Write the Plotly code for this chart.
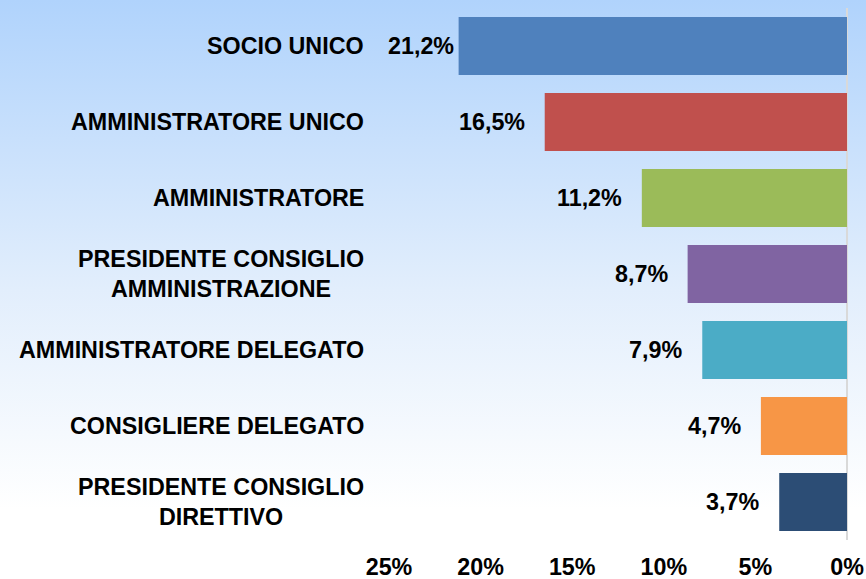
import base64
import plotly.graph_objects as go

categories = [
    "SOCIO UNICO",
    "AMMINISTRATORE UNICO",
    "AMMINISTRATORE",
    "PRESIDENTE CONSIGLIO<br>AMMINISTRAZIONE",
    "AMMINISTRATORE DELEGATO",
    "CONSIGLIERE DELEGATO",
    "PRESIDENTE CONSIGLIO<br>DIRETTIVO",
]
values = [21.2, 16.5, 11.2, 8.7, 7.9, 4.7, 3.7]
colors = ["#4f81bd", "#c0504d", "#9bbb59", "#8064a2", "#4bacc6", "#f79646", "#2c4d75"]
tick_vals = [0, 5, 10, 15, 20, 25]
tick_text = ["0%", "5%", "10%", "15%", "20%", "25%"]

FONT = "Liberation Sans, Arial, sans-serif"
FS = 23.3
W, H = 866, 579
ML, MR, MT, MB = 389, 19, 8, 39
XMAX = 25

ids = [str(i) for i in range(len(categories))]

fig = go.Figure()
fig.add_trace(go.Bar(
    x=values, y=ids, orientation="h",
    marker=dict(color=colors, line=dict(width=0)),
    width=0.76, hoverinfo="skip",
))

annotations = []
plot_w = W - ML - MR
px_per_unit = plot_w / XMAX
for cid, cat, v in zip(ids, categories, values):
    annotations.append(dict(
        x=0, xref="paper", y=cid, yref="y", text=cat, showarrow=False,
        xanchor="right", yanchor="middle", align="center", xshift=-23,
        font=dict(family=FONT, size=FS, color="#000000", weight="bold"),
    ))
    label = f"{v:.1f}".replace(".", ",") + "%"
    est_w = len(label) * 0.57 * FS
    if v * px_per_unit + 20 + est_w > plot_w:
        annotations.append(dict(
            x=XMAX, xref="x", y=cid, yref="y", text=label, showarrow=False,
            xanchor="left", yanchor="middle", xshift=-3,
            font=dict(family=FONT, size=FS, color="#000000", weight="bold"),
        ))
    else:
        annotations.append(dict(
            x=v, xref="x", y=cid, yref="y", text=label, showarrow=False,
            xanchor="right", yanchor="middle", xshift=-18,
            font=dict(family=FONT, size=FS, color="#000000", weight="bold"),
        ))

svg = (
    f'<svg xmlns="http://www.w3.org/2000/svg" width="{W}" height="{H}" '
    f'viewBox="0 0 {W} {H}" preserveAspectRatio="none">'
    '<defs><linearGradient id="g" x1="0" y1="0" x2="0" y2="1">'
    '<stop offset="0" stop-color="#b0d3fc"/>'
    '<stop offset="0.5" stop-color="#e2eefc"/>'
    '<stop offset="0.88" stop-color="#ffffff"/>'
    '<stop offset="1" stop-color="#ffffff"/>'
    '</linearGradient></defs>'
    f'<rect width="{W}" height="{H}" fill="url(#g)"/></svg>'
)
src = "data:image/svg+xml;base64," + base64.b64encode(svg.encode()).decode()
plot_h = H - MT - MB
images = [dict(
    source=src, xref="paper", yref="paper",
    x=-ML / plot_w, y=1 + MT / plot_h,
    sizex=W / plot_w, sizey=H / plot_h,
    xanchor="left", yanchor="top", sizing="stretch", layer="below",
)]

fig.update_layout(
    width=W, height=H,
    margin=dict(l=ML, r=MR, t=MT, b=MB, pad=0, autoexpand=False),
    paper_bgcolor="#ffffff", plot_bgcolor="rgba(0,0,0,0)",
    showlegend=False, bargap=0.24,
    annotations=annotations, images=images,
    xaxis=dict(
        range=[XMAX, 0], tickvals=tick_vals, ticktext=tick_text,
        showgrid=False, zeroline=True, zerolinecolor="#d9d9d9", zerolinewidth=2,
        showline=False, ticks="outside", ticklen=6, tickcolor="rgba(0,0,0,0)",
        tickfont=dict(family=FONT, size=FS, color="#000000", weight="bold"),
        fixedrange=True, automargin=False,
    ),
    yaxis=dict(
        categoryorder="array", categoryarray=ids, autorange="reversed",
        showticklabels=False, showgrid=False, zeroline=False, showline=False,
        ticks="", fixedrange=True, automargin=False,
    ),
)

fig.write_html(
    "out.html",
    config={"displayModeBar": False},
    post_script="document.body.style.margin='0';document.body.style.overflow='hidden';",
)
